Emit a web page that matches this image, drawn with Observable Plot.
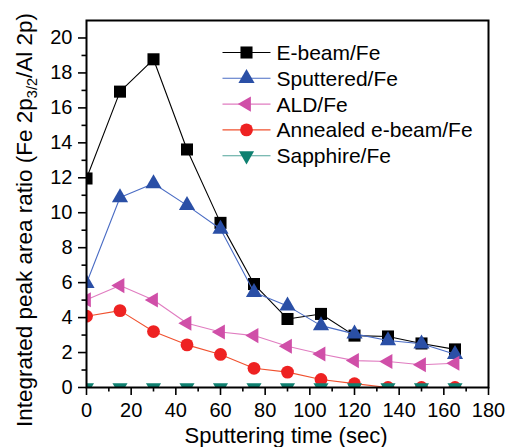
<!DOCTYPE html>
<html>
<head>
<meta charset="utf-8">
<script src="https://cdn.jsdelivr.net/npm/d3@7"></script>
<script src="https://cdn.jsdelivr.net/npm/@observablehq/plot@0.6"></script>
<style>
  html, body { margin: 0; padding: 0; background: #fff; }
  #chart { position: relative; width: 509px; height: 447px; }
  svg { font-family: "Liberation Sans", Arial, Helvetica, sans-serif; }
</style>
</head>
<body>
<div id="chart"></div>
<script>
const times = [0, 15, 30, 45, 60, 75, 90, 105, 120, 135, 150, 165];
const ebeam = [11.96, 16.93, 18.78, 13.62, 9.42, 5.92, 3.92, 4.21, 2.97, 2.92, 2.52, 2.18];
const sputtered = [5.96, 10.87, 11.67, 10.42, 9.07, 5.45, 4.67, 3.54, 3.07, 2.69, 2.5, 1.9];
const ald = [5.02, 5.83, 5.01, 3.68, 3.18, 2.97, 2.36, 1.92, 1.54, 1.49, 1.3, 1.39];
const annealed = [4.08, 4.4, 3.2, 2.44, 1.89, 1.1, 0.88, 0.46, 0.22, 0.0, 0.0, 0.0];
const sapphire = [0, 0, 0, 0, 0, 0, 0, 0, 0, 0, 0, 0];

const seriesNames = ["E-beam/Fe", "Sputtered/Fe", "ALD/Fe", "Annealed e-beam/Fe", "Sapphire/Fe"];
const seriesValues = [ebeam, sputtered, ald, annealed, sapphire];
const lineColors = ["#000000", "#4a6cc4", "#e07cc0", "#f0502e", "#50a49a"];
const markColors = ["#000000", "#2a4fa6", "#d04fa8", "#ee2222", "#0e8070"];
const xTicks = [0, 20, 40, 60, 80, 100, 120, 140, 160, 180];
const xMinor = [10, 30, 50, 70, 90, 110, 130, 150, 170];
const yTicks = [0, 2, 4, 6, 8, 10, 12, 14, 16, 18, 20];
const yMinor = [1, 3, 5, 7, 9, 11, 13, 15, 17, 19];

const s3 = Math.sqrt(3);
function triSym(dir) {
  return {
    draw(ctx, size) {
      const y = -Math.sqrt(size / (s3 * 3));
      const pts = [[0, y * 2], [-s3 * y, -y], [s3 * y, -y]];
      const tr = ([a, b]) => dir === "up" ? [a, b] : dir === "down" ? [a, -b] : [b, a];
      pts.map(tr).forEach(([a, b], i) => i ? ctx.lineTo(a, b) : ctx.moveTo(a, b));
      ctx.closePath();
    }
  };
}
const symbols = [d3.symbolSquare, triSym("up"), triSym("left"), d3.symbolCircle, triSym("down")];
const radii = [6.8, 6.0, 5.6, 6.4, 5.6];

const data = seriesNames.map((name, k) => seriesValues[k].map((v, i) => ({name, t: times[i], v})));

const marks = [];
data.forEach((rows, k) => {
  marks.push(Plot.line(rows, {x: "t", y: "v", stroke: lineColors[k], strokeWidth: 1.1, clip: true}));
  marks.push(Plot.dot(rows, {x: "t", y: "v", symbol: () => symbols[k], r: radii[k], fill: markColors[k], stroke: "none", clip: true}));
});

const plot = Plot.plot({
  width: 509,
  height: 447,
  marginLeft: 86,
  marginRight: 21,
  marginTop: 20,
  marginBottom: 60,
  style: {fontFamily: "Liberation Sans, Arial, sans-serif", fontSize: "20px", color: "#000", background: "#fff"},
  x: {domain: [0, 180]},
  y: {domain: [0, 21]},
  symbol: {type: "identity"},
  marks: [
    ...marks,
    Plot.axisX({ticks: xTicks, tickSize: 8, tickPadding: 7, tickFormat: d => d, label: null, strokeWidth: 1.6, fontSize: 20}),
    Plot.axisX({ticks: xMinor, tickSize: 4.5, tickFormat: () => "", label: null, strokeWidth: 1.6}),
    Plot.axisY({ticks: yTicks, tickSize: 8, tickPadding: 6, tickFormat: d => d, label: null, strokeWidth: 1.6, fontSize: 20}),
    Plot.axisY({ticks: yMinor, tickSize: 4.5, tickFormat: () => "", label: null, strokeWidth: 1.6}),
    Plot.frame({stroke: "#000", strokeWidth: 2})
  ]
});
document.getElementById("chart").appendChild(plot);

const svg = d3.select(plot);
// axis titles
svg.append("text")
  .attr("x", 286).attr("y", 443)
  .attr("text-anchor", "middle")
  .attr("font-size", 22).attr("fill", "#000")
  .text("Sputtering time (sec)");

const yl = svg.append("text")
  .attr("transform", "translate(32,220) rotate(-90)")
  .attr("text-anchor", "middle")
  .attr("font-size", 22.5).attr("fill", "#000");
yl.append("tspan").text("Integrated peak area ratio (Fe 2p");
yl.append("tspan").attr("font-size", 14.5).attr("dy", 5).text("3/2");
yl.append("tspan").attr("dy", -5).text("/Al 2p)");

// legend
const lg = svg.append("g").attr("transform", "translate(222.5,52.5)");
seriesNames.forEach((name, k) => {
  const g = lg.append("g").attr("transform", `translate(0,${k * 25.8})`);
  g.append("line").attr("x1", 0).attr("x2", 48).attr("y1", 0).attr("y2", 0)
    .attr("stroke", lineColors[k]).attr("stroke-width", 1.1);
  g.append("path").attr("transform", "translate(24,0)")
    .attr("d", d3.symbol(symbols[k], Math.PI * radii[k] * radii[k])())
    .attr("fill", markColors[k]);
  g.append("text").attr("x", 54).attr("y", 0).attr("dy", "0.36em")
    .attr("text-anchor", "start")
    .attr("font-size", 21).attr("fill", "#000").text(name);
});
</script>
</body>
</html>
